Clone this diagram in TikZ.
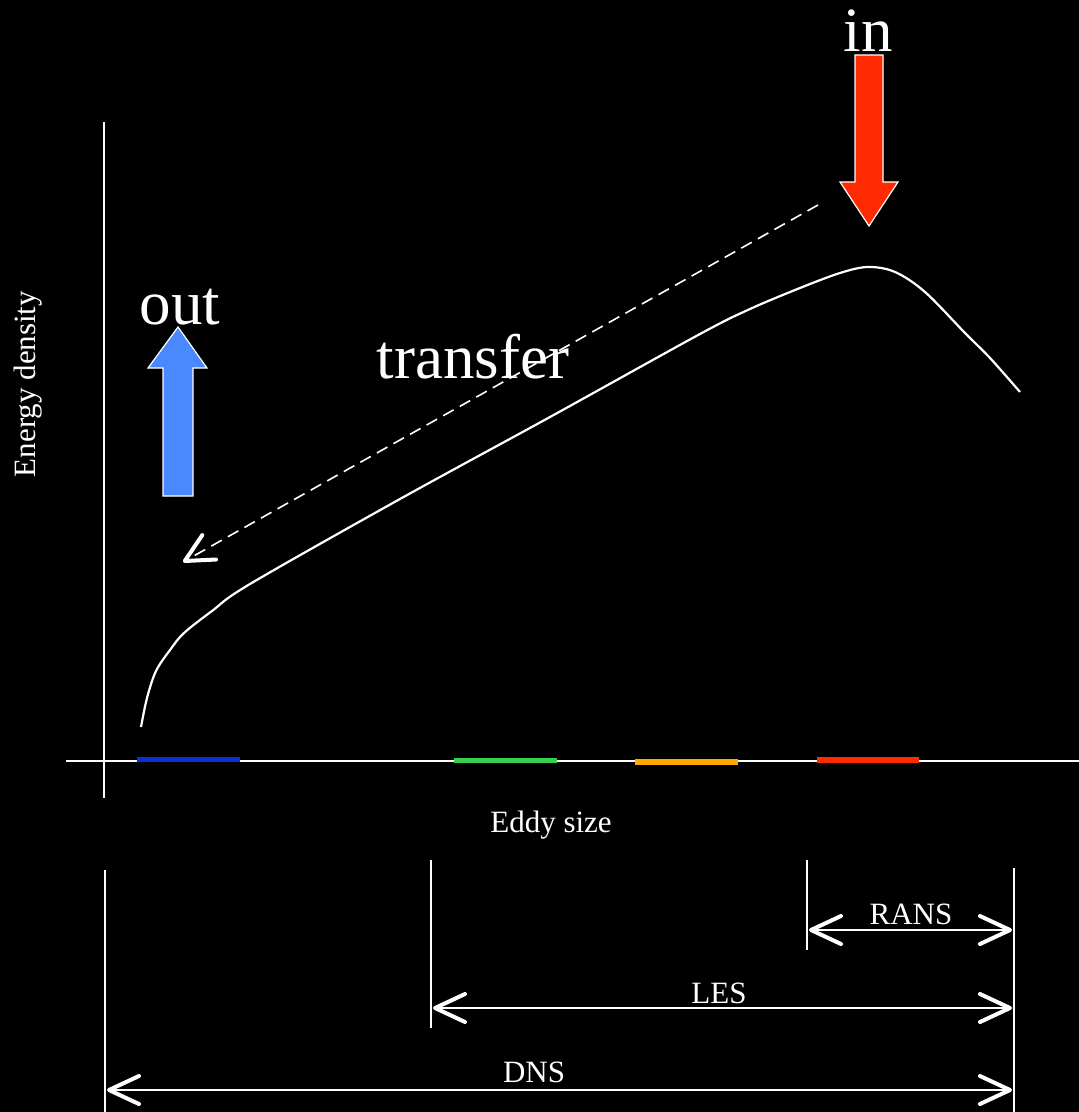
\documentclass[tikz,border=0pt]{standalone}
\usepackage{fontspec}
\setmainfont{Liberation Serif}
\usetikzlibrary{arrows.meta}
\definecolor{inred}{HTML}{FF2A00}
\definecolor{outblue}{HTML}{4A88FF}
\definecolor{barblue}{HTML}{0A2ED8}
\definecolor{bargreen}{HTML}{38D048}
\definecolor{barorange}{HTML}{FFA800}
\definecolor{barred}{HTML}{FF2A00}
\begin{document}
\begin{tikzpicture}[x=0.5pt,y=-0.5pt,
  big/.style={text=white,font=\fontsize{31.5}{36}\selectfont,inner sep=0pt},
  small/.style={text=white,font=\fontsize{15.5}{18}\selectfont,inner sep=0pt},
  dimline/.style={white,line width=1pt,{Straight Barb[length=15pt,width=14pt,line width=2pt,round]}-{Straight Barb[length=15pt,width=14pt,line width=2pt,round]}},
  guide/.style={white,line width=0.8pt},
  axis/.style={white,line width=1pt},
  bar/.style={line width=2.6pt},
  fatarrow/.style={draw=white,line width=0.6pt,line join=miter}]
\fill[black] (0,0) rectangle (1079,1112);
\useasboundingbox (0,0) rectangle (1079,1112);

% axes
\coordinate (yaxtop) at (104,122);
\coordinate (yaxbot) at (104,798);
\coordinate (xaxl) at (66,761);
\coordinate (xaxr) at (1079,761);
\draw[axis] (yaxtop) -- (yaxbot);
\draw[axis] (xaxl) -- (xaxr);

% coloured bars
\draw[bar,barblue] (137,759.5) -- (240,759.5);
\draw[bar,bargreen] (454,760.5) -- (557,760.5);
\draw[bar,barorange] (635,762) -- (738,762);
\draw[bar,barred] (817,760) -- (919,760);

% spectrum curve
\draw[white,line width=1.1pt,line join=round] plot[smooth,tension=0.55] coordinates {
 (141,727) (147,698) (156,671) (170,650) (184,633) (212,611) (250,584)
 (400,499) (550,417) (700,334) (750,309) (800,288) (840,273) (868,267)
 (895,272) (925,292) (965,333) (990,358) (1020,392)};

% in arrow
\draw[fatarrow,fill=inred] (855,55) -- (883,55) -- (883,182) -- (898,182) -- (869,226)
  -- (840,182) -- (855,182) -- cycle;
\node[big,anchor=base] (in) at (868,52) {in};

% out arrow
\draw[fatarrow,fill=outblue] (163,496) -- (193,496) -- (193,368) -- (207,368) -- (178,327)
  -- (148,368) -- (163,368) -- cycle;
\node[big,anchor=base] (out) at (180,325) {out};

% transfer
\coordinate (trA) at (818,205);
\coordinate (trB) at (183,562);
\draw[white,line width=0.8pt,dash pattern=on 6pt off 3.5pt,
  -{Straight Barb[length=14pt,width=14pt,line width=2pt,round]}] (trA) -- (trB);
\node[big,anchor=base] (transfer) at (473,378) {transfer};

% axis labels
\node[small,rotate=90] (ylabel) at (28,384) {Energy density};
\node[small,anchor=base] (xlabel) at (551,832) {Eddy size};

% guide lines
\coordinate (g1t) at (105,870);  \coordinate (g1b) at (105,1112);
\coordinate (g2t) at (431,860);  \coordinate (g2b) at (431,1028);
\coordinate (g3t) at (807,860);  \coordinate (g3b) at (807,950);
\coordinate (g4t) at (1014,868); \coordinate (g4b) at (1014,1112);
\draw[guide] (g1t) -- (g1b);
\draw[guide] (g2t) -- (g2b);
\draw[guide] (g3t) -- (g3b);
\draw[guide] (g4t) -- (g4b);

% dimension arrows
\coordinate (ransL) at (809,930);  \coordinate (ransR) at (1012,930);
\coordinate (lesL) at (433,1008);  \coordinate (lesR) at (1012,1008);
\coordinate (dnsL) at (107,1090);  \coordinate (dnsR) at (1012,1090);
\draw[dimline] (ransL) -- (ransR);
\draw[dimline] (lesL) -- (lesR);
\draw[dimline] (dnsL) -- (dnsR);
\node[small,anchor=base] (rans) at (911,924) {RANS};
\node[small,anchor=base] (les) at (719,1003) {LES};
\node[small,anchor=base] (dns) at (534,1082) {DNS};
\end{tikzpicture}
\end{document}
